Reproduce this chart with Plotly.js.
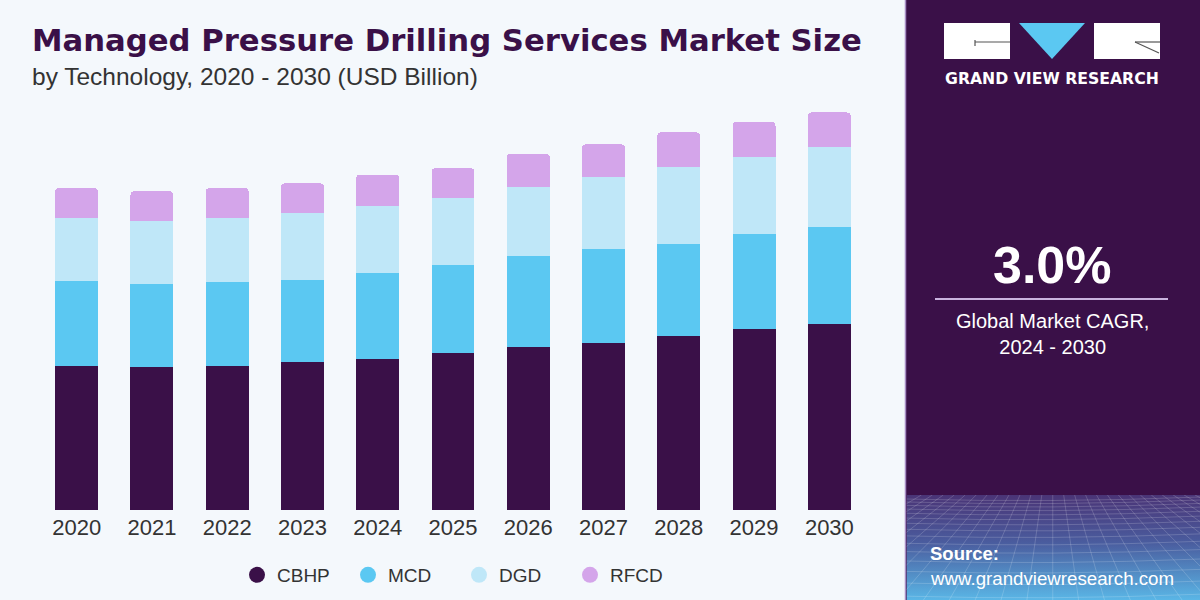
<!DOCTYPE html>
<html>
<head>
<meta charset="utf-8">
<script src="https://cdn.plot.ly/plotly-3.0.1.min.js"></script>
<style>
  html, body { margin: 0; padding: 0; background: #f4f8fc; }
  #chart { width: 1200px; height: 600px; }
</style>
</head>
<body>
<div id="chart"></div>
<script>
// Managed pressure drilling services market, by technology (USD Billion)
const years = ['2020', '2021', '2022', '2023', '2024', '2025', '2026', '2027', '2028', '2029', '2030'];
const cbhp = [1.81, 1.79, 1.81, 1.86, 1.90, 1.97, 2.04, 2.10, 2.19, 2.27, 2.33];
const mcd  = [1.07, 1.05, 1.05, 1.03, 1.07, 1.10, 1.15, 1.18, 1.15, 1.19, 1.22];
const dgd  = [0.79, 0.79, 0.80, 0.84, 0.85, 0.85, 0.87, 0.90, 0.97, 0.97, 1.00];
const rfcd = [0.37, 0.37, 0.38, 0.37, 0.39, 0.37, 0.41, 0.41, 0.43, 0.44, 0.44];
const seriesNames = ['CBHP', 'MCD', 'DGD', 'RFCD'];
const seriesColors = ['#3a1048', '#5bc8f2', '#bfe7f8', '#d4a5ea'];
const highlightYear = '2023';
const cagrText = '3.0%';

// Plot frame in page pixels
const W = 1200, H = 600;
const L = 39, R = 867, T = 100, B = 510;
const px = x => (x - L) / (R - L);
const py = y => (B - y) / (B - T);

const seriesValues = [cbhp, mcd, dgd, rfcd];
const traces = [];
seriesValues.forEach((vals, i) => {
  traces.push({
    type: 'bar', x: years, y: vals, name: seriesNames[i],
    marker: { color: seriesColors[i], line: { width: 0 } },
    showlegend: false, hoverinfo: 'x+y+name'
  });
});
// Round legend markers (no points of their own)
seriesNames.forEach((n, i) => {
  traces.push({
    type: 'scatter', mode: 'markers', x: [years[0]], y: [null], name: n,
    marker: { color: seriesColors[i], size: 16, symbol: 'circle' },
    showlegend: true, hoverinfo: 'skip'
  });
});

const hi = years.indexOf(highlightYear);
const hiTotal = cbhp[hi] + mcd[hi] + dgd[hi] + rfcd[hi];

// Footer backdrop of the side panel: gradient with a perspective grid
function panelFooterSvg() {
  let s = '<svg xmlns="http://www.w3.org/2000/svg" width="295" height="105" viewBox="0 0 295 105">' +
    '<defs><linearGradient id="g" x1="0" y1="0" x2="0" y2="1">' +
    '<stop offset="0" stop-color="#4a3476"/>' +
    '<stop offset="0.45" stop-color="#4a5c9e"/>' +
    '<stop offset="1" stop-color="#5ab6e6"/>' +
    '</linearGradient></defs>' +
    '<rect width="295" height="105" fill="url(#g)"/>' +
    '<g stroke="#ffffff" stroke-opacity="0.22" stroke-width="0.8" fill="none">';
  let y = 4;
  let step = 3;
  while (y < 105) {
    s += '<path d="M0 ' + y.toFixed(1) + ' Q147 ' + (y + 4).toFixed(1) + ' 295 ' + (y - 2).toFixed(1) + '"/>';
    y += step;
    step *= 1.12;
  }
  for (let k = -12; k <= 24; k++) {
    const xt = 147 + k * 11;
    const xb = 147 + k * 26;
    s += '<path d="M' + xt + ' 0 L' + xb + ' 105"/>';
  }
  s += '</g></svg>';
  return 'data:image/svg+xml;charset=utf-8,' + encodeURIComponent(s);
}

const FONT = 'Liberation Sans, Arial, sans-serif';
const WHITE = '#ffffff';

const shapes = [
  // side panel
  { type: 'rect', xref: 'paper', yref: 'paper', x0: px(905), x1: px(W), y0: py(0), y1: py(H),
    fillcolor: '#3a1048', line: { width: 0 }, layer: 'below' },
  { type: 'line', xref: 'paper', yref: 'paper', x0: px(905.5), x1: px(905.5), y0: py(0), y1: py(H),
    line: { color: '#a68cc4', width: 1.5 }, layer: 'below' },
  // logo blocks
  { type: 'rect', xref: 'paper', yref: 'paper', x0: px(944), x1: px(1010), y0: py(59), y1: py(23),
    fillcolor: WHITE, line: { width: 0 } },
  { type: 'path', xref: 'paper', yref: 'paper',
    path: 'M ' + px(1019) + ' ' + py(23) + ' L ' + px(1085) + ' ' + py(23) + ' L ' + px(1052) + ' ' + py(59) + ' Z',
    fillcolor: '#5bc8f2', line: { width: 0 } },
  { type: 'rect', xref: 'paper', yref: 'paper', x0: px(1094), x1: px(1160), y0: py(59), y1: py(23),
    fillcolor: WHITE, line: { width: 0 } },
  { type: 'line', xref: 'paper', yref: 'paper', x0: px(975), x1: px(1010), y0: py(42), y1: py(42),
    line: { color: '#555555', width: 1.2 } },
  { type: 'line', xref: 'paper', yref: 'paper', x0: px(975), x1: px(975), y0: py(40), y1: py(46),
    line: { color: '#555555', width: 1.2 } },
  { type: 'line', xref: 'paper', yref: 'paper', x0: px(1135), x1: px(1160), y0: py(42), y1: py(42),
    line: { color: '#555555', width: 1.2 } },
  { type: 'line', xref: 'paper', yref: 'paper', x0: px(1135), x1: px(1159), y0: py(42), y1: py(53),
    line: { color: '#555555', width: 1.2 } },
  // divider under the CAGR figure
  { type: 'line', xref: 'paper', yref: 'paper', x0: px(935), x1: px(1168), y0: py(299), y1: py(299),
    line: { color: '#c9b3de', width: 2 } }
];

const annotations = [
  { xref: 'paper', yref: 'paper', x: px(30), y: py(40), xanchor: 'left', yanchor: 'middle',
    text: 'Managed Pressure Drilling Services Market Size', showarrow: false,
    font: { family: 'DejaVu Sans, sans-serif', size: 30.7, color: '#3a1048', weight: 'bold' } },
  { xref: 'paper', yref: 'paper', x: px(30), y: py(77), xanchor: 'left', yanchor: 'middle',
    text: 'by Technology, 2020 - 2030 (USD Billion)', showarrow: false,
    font: { family: FONT, size: 24.5, color: '#333333' } },
  { x: highlightYear, y: hiTotal, xref: 'x', yref: 'y', yanchor: 'bottom', yshift: 8,
    text: '$' + hiTotal.toFixed(1) + 'B', showarrow: false,
    font: { family: FONT, size: 24, color: '#333333' } },
  { xref: 'paper', yref: 'paper', x: px(1052), y: py(79), xanchor: 'center', yanchor: 'middle',
    text: 'GRAND VIEW RESEARCH', showarrow: false,
    font: { family: 'DejaVu Sans, sans-serif', size: 15.7, color: WHITE, weight: 'bold' } },
  { xref: 'paper', yref: 'paper', x: px(1052), y: py(265), xanchor: 'center', yanchor: 'middle',
    text: cagrText, showarrow: false,
    font: { family: FONT, size: 52, color: WHITE, weight: 'bold' } },
  { xref: 'paper', yref: 'paper', x: px(1052), y: py(334), xanchor: 'center', yanchor: 'middle',
    text: 'Global Market CAGR,<br>2024 - 2030', showarrow: false, align: 'center',
    font: { family: FONT, size: 20, color: WHITE } },
  { xref: 'paper', yref: 'paper', x: px(928), y: py(553), xanchor: 'left', yanchor: 'middle',
    text: '<b>Source:</b>', showarrow: false,
    font: { family: FONT, size: 18.5, color: WHITE } },
  { xref: 'paper', yref: 'paper', x: px(928), y: py(578), xanchor: 'left', yanchor: 'middle',
    text: 'www.grandviewresearch.com', showarrow: false,
    font: { family: FONT, size: 18.7, color: WHITE } }
];

const layout = {
  width: W, height: H,
  margin: { l: L, r: W - R, t: T, b: H - B, pad: 0, autoexpand: false },
  paper_bgcolor: '#f4f8fc', plot_bgcolor: '#f4f8fc',
  barmode: 'stack', bargap: 0.43, barcornerradius: 4,
  font: { family: FONT, color: '#333333' },
  xaxis: {
    type: 'category', categoryorder: 'array', categoryarray: years,
    range: [-0.5, years.length - 0.5], autorange: false, automargin: false,
    showgrid: false, zeroline: false, showline: false, ticks: '',
    tickfont: { family: FONT, size: 22, color: '#333333' }, ticklabelstandoff: 2
  },
  yaxis: {
    range: [0, 5.146], autorange: false, automargin: false, visible: false, showgrid: false, zeroline: false
  },
  legend: {
    orientation: 'h', traceorder: 'normal', xref: 'paper', yref: 'paper', x: px(237), y: py(575),
    xanchor: 'left', yanchor: 'middle', bgcolor: 'rgba(0,0,0,0)', entrywidth: 66, entrywidthmode: 'pixels',
    font: { family: FONT, size: 19, color: '#333333' }, itemclick: false, itemdoubleclick: false
  },
  shapes: shapes,
  annotations: annotations,
  images: [{
    source: panelFooterSvg(), xref: 'paper', yref: 'paper',
    x: px(906.5), y: py(495), sizex: (W - 906.5) / (R - L), sizey: 105 / (B - T),
    xanchor: 'left', yanchor: 'top', sizing: 'stretch', layer: 'above'
  }],
  showlegend: true
};

Plotly.newPlot('chart', traces, layout, { staticPlot: true, displayModeBar: false });
</script>
</body>
</html>
